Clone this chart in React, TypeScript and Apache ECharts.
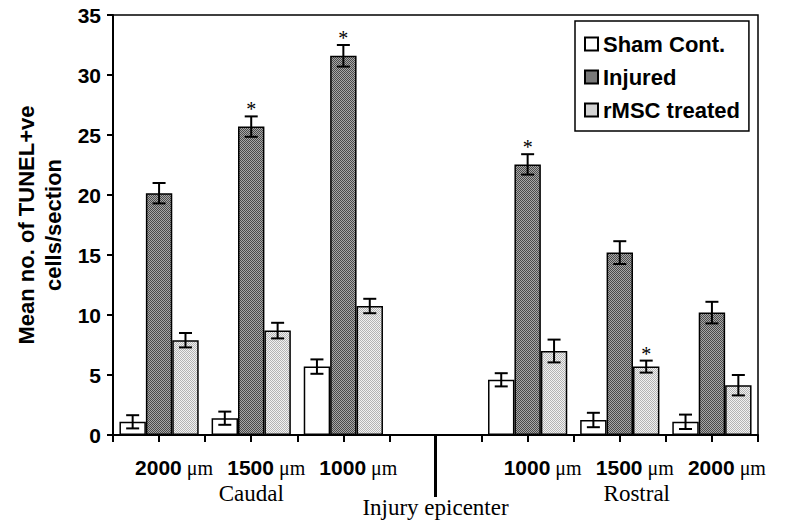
import React, { useEffect, useRef } from "react";
import * as echarts from "echarts";

const categories = ["C2000", "C1500", "C1000", "EPI", "R1000", "R1500", "R2000"];
const distanceLabels = ["2000", "1500", "1000", "", "1000", "1500", "2000"];
const seriesNames = ["Sham Cont.", "Injured", "rMSC treated"];

const shamMean = [1.1, 1.4, 5.7, null, 4.6, 1.25, 1.1];
const shamErr = [0.55, 0.55, 0.6, null, 0.55, 0.6, 0.6];
const injuredMean = [20.15, 25.7, 31.6, null, 22.55, 15.2, 10.2];
const injuredErr = [0.85, 0.85, 0.9, null, 0.85, 0.95, 0.9];
const rmscMean = [7.9, 8.7, 10.75, null, 7.0, 5.7, 4.15];
const rmscErr = [0.6, 0.65, 0.6, null, 0.95, 0.5, 0.85];
const shamSig = [0, 0, 0, 0, 0, 0, 0];
const injuredSig = [0, 1, 1, 0, 1, 0, 0];
const rmscSig = [0, 0, 0, 0, 0, 1, 0];

const yTicks = { min: 0, max: 35, interval: 5 };
const CAT_GAP = 0.14;

function makePattern(dark: string, light: string) {
  const c = document.createElement("canvas");
  c.width = 2;
  c.height = 2;
  const ctx = c.getContext("2d")!;
  ctx.fillStyle = light;
  ctx.fillRect(0, 0, 2, 2);
  ctx.fillStyle = dark;
  ctx.fillRect(0, 0, 1, 1);
  ctx.fillRect(1, 1, 1, 1);
  return { image: c, repeat: "repeat", imageWidth: 2, imageHeight: 2 } as any;
}

function errData(mean: (number | null)[], err: (number | null)[], sig: number[]) {
  const out: any[] = [];
  mean.forEach((m, i) => {
    if (m != null) out.push([i, m, err[i], sig[i]]);
  });
  return out;
}

function makeErrRenderer(k: number) {
  return (params: any, api: any) => {
    const cat = api.value(0);
    const mean = api.value(1);
    const err = api.value(2);
    const sig = api.value(3);
    const c = api.coord([cat, mean]);
    const band = api.size([1, 0])[0];
    const bw = (band * (1 - CAT_GAP)) / 3;
    const x = c[0] + (k - 1) * bw;
    const yt = api.coord([cat, mean + err])[1];
    const yb = api.coord([cat, mean - err])[1];
    const hw = 6.5;
    const st = { stroke: "#000", lineWidth: 2 };
    const children: any[] = [
      { type: "line", shape: { x1: x, y1: yt, x2: x, y2: yb }, style: st },
      { type: "line", shape: { x1: x - hw, y1: yt, x2: x + hw, y2: yt }, style: st },
      { type: "line", shape: { x1: x - hw, y1: yb, x2: x + hw, y2: yb }, style: st },
    ];
    if (sig) {
      children.push({
        type: "text",
        x,
        y: yt + 3,
        style: {
          text: "*",
          fill: "#000",
          font: '20px "Liberation Serif", "Times New Roman", serif',
          textAlign: "center",
          textVerticalAlign: "bottom",
        },
      });
    }
    return { type: "group", children };
  };
}

export default function App() {
  const ref = useRef<HTMLDivElement>(null);
  useEffect(() => {
    if (!ref.current) return;
    const chart = echarts.init(ref.current, null, { renderer: "svg" });
    const injuredFill = makePattern("#4a4a4a", "#a8a8a8");
    const rmscFill = makePattern("#b4b4b4", "#f2f2f2");
    const barBorder = { borderColor: "#000", borderWidth: 1.5 };
    const boldFont = '"Liberation Sans", Arial, sans-serif';
    const serifFont = '"Liberation Serif", "Times New Roman", serif';

    const option: any = {
      animation: false,
      backgroundColor: "#fff",
      grid: {
        left: 113,
        right: 33,
        top: 15,
        bottom: 92,
        show: true,
        borderColor: "#000",
        borderWidth: 1.5,
        backgroundColor: "transparent",
      },
      legend: {
        orient: "vertical",
        left: 575,
        top: 21,
        data: seriesNames,
        icon: "rect",
        itemWidth: 13,
        itemHeight: 13,
        itemGap: 11,
        padding: [12, 9, 10, 9],
        backgroundColor: "#fff",
        borderColor: "#000",
        borderWidth: 1.5,
        borderRadius: 0,
        textStyle: { fontFamily: boldFont, fontWeight: "bold", fontSize: 22, color: "#000" },
      },
      xAxis: [
        {
          type: "category",
          data: categories,
          position: "bottom",
          axisLine: { lineStyle: { color: "#000", width: 2 } },
          axisTick: { show: true, length: 7, lineStyle: { color: "#000", width: 2 } },
          axisLabel: {
            interval: 0,
            margin: 22,
            padding: [0, 0, 0, 30],
            formatter: (v: string, idx: number) =>
              distanceLabels[idx] ? `{b|${distanceLabels[idx]}}{u| μm}` : "",
            rich: {
              b: { fontFamily: boldFont, fontWeight: "bold", fontSize: 21, color: "#000" },
              u: { fontFamily: serifFont, fontSize: 20, color: "#000" },
            },
          },
          splitLine: { show: false },
        },
        {
          type: "category",
          data: categories,
          position: "bottom",
          axisLine: { show: false },
          axisTick: { show: true, alignWithLabel: true, length: 7, lineStyle: { color: "#000", width: 2 } },
          axisLabel: { show: false },
          splitLine: { show: false },
        },
      ],
      yAxis: {
        type: "value",
        min: yTicks.min,
        max: yTicks.max,
        interval: yTicks.interval,
        axisLine: { show: true, lineStyle: { color: "#000", width: 2 } },
        axisTick: { show: true, length: 6, lineStyle: { color: "#000", width: 2 } },
        splitLine: { show: false },
        axisLabel: { fontFamily: boldFont, fontWeight: "bold", fontSize: 21, color: "#000", margin: 12 },
        name: "Mean no. of TUNEL+ve\ncells/section",
        nameLocation: "middle",
        nameRotate: 90,
        nameGap: 42,
        nameTextStyle: { fontFamily: boldFont, fontWeight: "bold", fontSize: 22, lineHeight: 27, color: "#000" },
      },
      series: [
        {
          name: seriesNames[0],
          type: "bar",
          xAxisIndex: 0,
          data: shamMean,
          barGap: "0%",
          barCategoryGap: `${CAT_GAP * 100}%`,
          itemStyle: { color: "#fff", ...barBorder },
        },
        {
          name: seriesNames[1],
          type: "bar",
          xAxisIndex: 0,
          data: injuredMean,
          barGap: "0%",
          barCategoryGap: `${CAT_GAP * 100}%`,
          itemStyle: { color: injuredFill, ...barBorder },
        },
        {
          name: seriesNames[2],
          type: "bar",
          xAxisIndex: 0,
          data: rmscMean,
          barGap: "0%",
          barCategoryGap: `${CAT_GAP * 100}%`,
          itemStyle: { color: rmscFill, ...barBorder },
        },
        {
          name: "err0",
          type: "custom",
          xAxisIndex: 0,
          renderItem: makeErrRenderer(0),
          data: errData(shamMean, shamErr, shamSig),
          z: 5,
        },
        {
          name: "err1",
          type: "custom",
          xAxisIndex: 0,
          renderItem: makeErrRenderer(1),
          data: errData(injuredMean, injuredErr, injuredSig),
          z: 5,
        },
        {
          name: "err2",
          type: "custom",
          xAxisIndex: 0,
          renderItem: makeErrRenderer(2),
          data: errData(rmscMean, rmscErr, rmscSig),
          z: 5,
        },
      ],
    };
    chart.setOption(option);

    const xEpi = chart.convertToPixel({ xAxisIndex: 0 }, "EPI") as number;
    const xC = chart.convertToPixel({ xAxisIndex: 0 }, "C1500") as number;
    const xR = chart.convertToPixel({ xAxisIndex: 0 }, "R1500") as number;
    const y0 = chart.convertToPixel({ yAxisIndex: 0 }, 0) as number;
    chart.setOption({
      graphic: [
        {
          type: "line",
          shape: { x1: xEpi, y1: y0, x2: xEpi, y2: y0 + 62 },
          style: { stroke: "#000", lineWidth: 3 },
          z: 10,
        },
        {
          type: "text",
          x: xC,
          y: y0 + 58,
          style: { text: "Caudal", font: `23px ${serifFont}`, fill: "#000", textAlign: "center", textVerticalAlign: "middle" },
        },
        {
          type: "text",
          x: xR + 17,
          y: y0 + 58,
          style: { text: "Rostral", font: `23px ${serifFont}`, fill: "#000", textAlign: "center", textVerticalAlign: "middle" },
        },
        {
          type: "text",
          x: xEpi,
          y: y0 + 72,
          style: { text: "Injury epicenter", font: `23px ${serifFont}`, fill: "#000", textAlign: "center", textVerticalAlign: "middle" },
        },
      ],
    });

    return () => chart.dispose();
  }, []);
  return <div ref={ref} style={{ position: "absolute", left: 0, top: 0, width: 791, height: 527 }} />;
}
